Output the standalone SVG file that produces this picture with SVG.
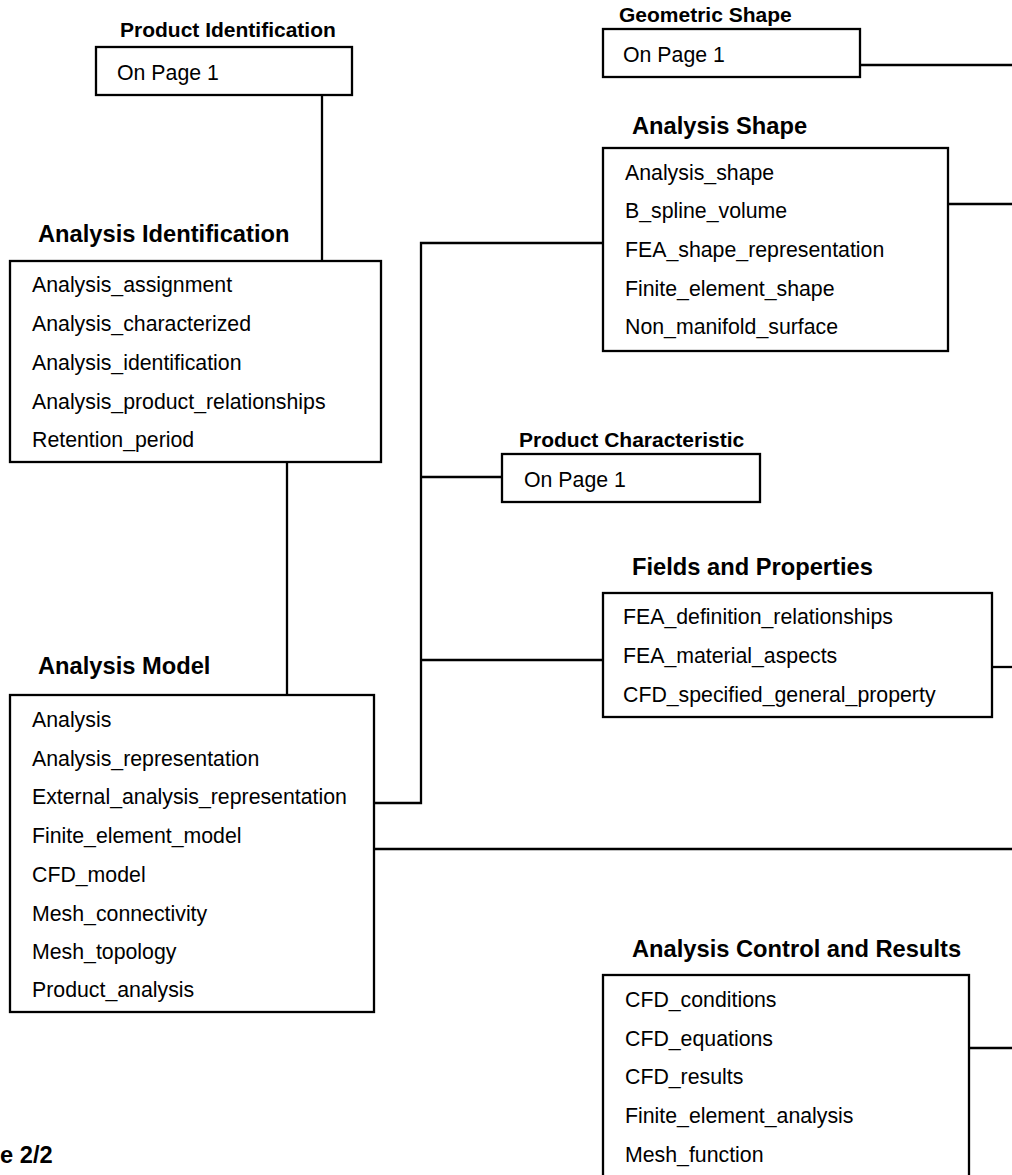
<svg xmlns="http://www.w3.org/2000/svg" width="1012" height="1175" viewBox="0 0 1012 1175">
<style>
.box{fill:#fff;stroke:#000;stroke-width:2.3}
.ln{fill:none;stroke:#000;stroke-width:2.3}
.t{font-family:"Liberation Sans",Arial,sans-serif;font-size:21.3px;fill:#000}
.h{font-family:"Liberation Sans",Arial,sans-serif;font-size:23.7px;font-weight:bold;fill:#000}
.hs{font-family:"Liberation Sans",Arial,sans-serif;font-size:21px;font-weight:bold;fill:#000}
</style>
<rect width="1012" height="1175" fill="#fff"/>
<g id="connectors">
<path class="ln" d="M322,95 V261"/>
<path class="ln" d="M287,462 V695"/>
<path class="ln" d="M374,803 H421 V243 H603"/>
<path class="ln" d="M421,477 H502"/>
<path class="ln" d="M421,660 H603"/>
<path class="ln" d="M374,849 H1012"/>
<path class="ln" d="M860,65 H1012"/>
<path class="ln" d="M948,204 H1012"/>
<path class="ln" d="M992,667 H1012"/>
<path class="ln" d="M969,1048 H1012"/>
</g>
<g id="product-identification">
<text class="hs" x="120" y="37">Product Identification</text>
<rect class="box" x="96" y="47" width="256" height="48"/>
<text class="t" x="117" y="80">On Page 1</text>
</g>
<g id="geometric-shape">
<text class="hs" x="619" y="22">Geometric Shape</text>
<rect class="box" x="603" y="29" width="257" height="48"/>
<text class="t" x="623" y="62">On Page 1</text>
</g>
<g id="analysis-shape">
<text class="h" x="632" y="134">Analysis Shape</text>
<rect class="box" x="603" y="148" width="345" height="203"/>
<text class="t" x="625" y="180">Analysis_shape</text>
<text class="t" x="625" y="218">B_spline_volume</text>
<text class="t" x="625" y="257">FEA_shape_representation</text>
<text class="t" x="625" y="296">Finite_element_shape</text>
<text class="t" x="625" y="334">Non_manifold_surface</text>
</g>
<g id="analysis-identification">
<text class="h" x="38" y="242">Analysis Identification</text>
<rect class="box" x="10" y="261" width="371" height="201"/>
<text class="t" x="32" y="292">Analysis_assignment</text>
<text class="t" x="32" y="331">Analysis_characterized</text>
<text class="t" x="32" y="370">Analysis_identification</text>
<text class="t" x="32" y="409">Analysis_product_relationships</text>
<text class="t" x="32" y="447">Retention_period</text>
</g>
<g id="product-characteristic">
<text class="hs" x="519" y="447">Product Characteristic</text>
<rect class="box" x="502" y="454" width="258" height="48"/>
<text class="t" x="524" y="487">On Page 1</text>
</g>
<g id="fields-and-properties">
<text class="h" x="632" y="575">Fields and Properties</text>
<rect class="box" x="603" y="593" width="389" height="124"/>
<text class="t" x="623" y="624">FEA_definition_relationships</text>
<text class="t" x="623" y="663">FEA_material_aspects</text>
<text class="t" x="623" y="702">CFD_specified_general_property</text>
</g>
<g id="analysis-model">
<text class="h" x="38" y="674">Analysis Model</text>
<rect class="box" x="10" y="695" width="364" height="317"/>
<text class="t" x="32" y="727">Analysis</text>
<text class="t" x="32" y="766">Analysis_representation</text>
<text class="t" x="32" y="804">External_analysis_representation</text>
<text class="t" x="32" y="843">Finite_element_model</text>
<text class="t" x="32" y="882">CFD_model</text>
<text class="t" x="32" y="921">Mesh_connectivity</text>
<text class="t" x="32" y="959">Mesh_topology</text>
<text class="t" x="32" y="997">Product_analysis</text>
</g>
<g id="analysis-control-and-results">
<text class="h" x="632" y="957">Analysis Control and Results</text>
<rect class="box" x="603" y="975" width="366" height="230"/>
<text class="t" x="625" y="1007">CFD_conditions</text>
<text class="t" x="625" y="1046">CFD_equations</text>
<text class="t" x="625" y="1084">CFD_results</text>
<text class="t" x="625" y="1123">Finite_element_analysis</text>
<text class="t" x="625" y="1162">Mesh_function</text>
</g>
<text class="h" x="0" y="1163">e 2/2</text>
</svg>
